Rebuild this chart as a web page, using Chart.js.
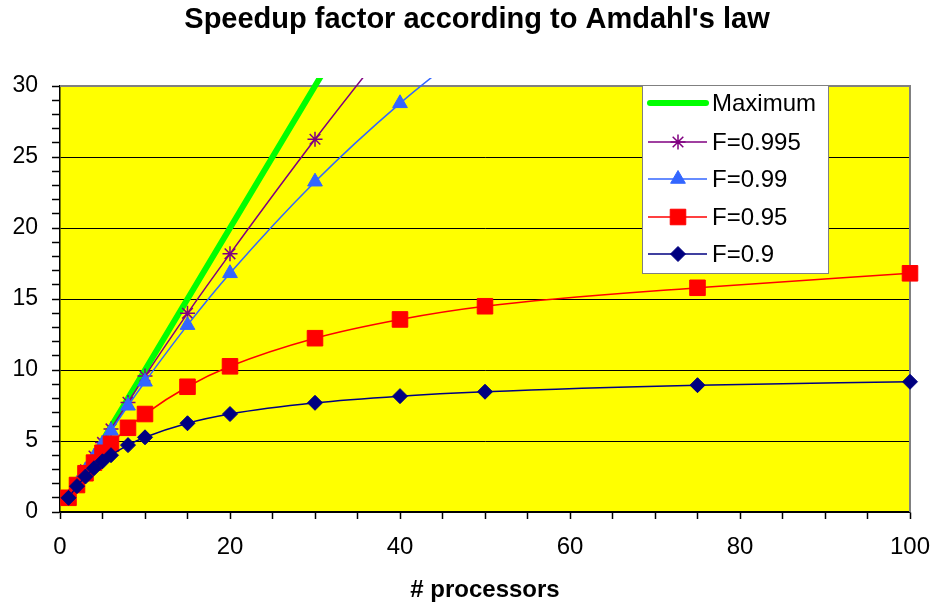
<!DOCTYPE html>
<html>
<head>
<meta charset="utf-8">
<title>Speedup factor according to Amdahl's law</title>
<script src="https://cdn.jsdelivr.net/npm/chart.js@4.4.1/dist/chart.umd.min.js"></script>
<style>
  html, body { margin: 0; padding: 0; background: #fff; }
  #wrap { width: 934px; height: 607px; }
</style>
</head>
<body>
<div id="wrap"><canvas id="speedupChart" width="934" height="607"></canvas></div>
<script>
// number of processors where a marker sits
const processors = [1, 2, 3, 4, 5, 6, 8, 10, 15, 20, 30, 40, 50, 75, 100];

// speedup (null = above the plot)
const maximum   = [1, 2, 3, 4, 5, 6, 8, 10, 15, 20, 30, 40, null, null, null];
const speedF995 = [1, 1.99, 2.97, 3.94, 4.9, 5.85, 7.72, 9.57, 13.99, 18.18, 26.25, 33.9, null, null, null];
const speedF99  = [1, 1.98, 2.94, 3.88, 4.81, 5.71, 7.48, 9.17, 13.16, 16.81, 23.26, 28.78, 33.56, null, null];
const speedF95  = [1, 1.9, 2.73, 3.48, 4.17, 4.8, 5.93, 6.9, 8.82, 10.26, 12.24, 13.56, 14.49, 15.79, 16.81];
const speedF90  = [1, 1.82, 2.5, 3.08, 3.57, 4.0, 4.71, 5.26, 6.25, 6.9, 7.69, 8.16, 8.47, 8.93, 9.17];

const seriesNames = ['Maximum', 'F=0.995', 'F=0.99', 'F=0.95', 'F=0.9'];
const xTickLabels = [0, 20, 40, 60, 80, 100];
const yTickLabels = [0, 5, 10, 15, 20, 25, 30];
const chartTitle = "Speedup factor according to Amdahl's law";

const FONT = "'Liberation Sans', Arial, Helvetica, sans-serif";

function toPoints(values) {
    return processors.map((p, i) => ({ x: p, y: values[i] }));
}

const clipBox = { left: 14, top: 8, right: 14, bottom: 14 };

const datasets = [
    {
        label: seriesNames[0], data: toPoints(maximum),
        borderColor: '#00FF00', borderWidth: 6, pointRadius: 0,
        order: 5
    },
    {
        label: seriesNames[1], data: toPoints(speedF995),
        borderColor: '#800080', borderWidth: 1.5,
        pointStyle: 'star', pointRadius: 7.5, pointBorderWidth: 1.5,
        pointBorderColor: '#800080', pointBackgroundColor: '#800080',
        order: 4
    },
    {
        label: seriesNames[2], data: toPoints(speedF99),
        borderColor: '#3366FF', borderWidth: 1.5,
        pointStyle: 'triangle', pointRadius: 8.5, pointBorderWidth: 1,
        pointBorderColor: '#3366FF', pointBackgroundColor: '#3366FF',
        order: 3
    },
    {
        label: seriesNames[3], data: toPoints(speedF95),
        borderColor: '#FF0000', borderWidth: 1.5,
        pointStyle: 'rect', pointRadius: 11, pointBorderWidth: 1,
        pointBorderColor: '#FF0000', pointBackgroundColor: '#FF0000',
        order: 2
    },
    {
        label: seriesNames[4], data: toPoints(speedF90),
        borderColor: '#000080', borderWidth: 1.5,
        pointStyle: 'rectRot', pointRadius: 7.5, pointBorderWidth: 1,
        pointBorderColor: '#000080', pointBackgroundColor: '#000080',
        order: 1
    }
];
datasets.forEach(d => {
    d.clip = clipBox;
    d.cubicInterpolationMode = 'monotone';
    d.fill = false;
    d.spanGaps = false;
});

// yellow plot area, grey frame on top/right, title text
const plotArea = {
    id: 'plotArea',
    beforeDraw(chart) {
        const { ctx, chartArea: a } = chart;
        ctx.save();
        ctx.fillStyle = '#FFFF00';
        ctx.fillRect(a.left, a.top, a.right - a.left, a.bottom - a.top);
        ctx.restore();
    },
    beforeDatasetsDraw(chart) {
        const { ctx, chartArea: a } = chart;
        ctx.save();
        ctx.strokeStyle = '#808080';
        ctx.lineWidth = 2;
        ctx.beginPath();
        ctx.moveTo(a.left, a.top);
        ctx.lineTo(a.right, a.top);
        ctx.lineTo(a.right, a.bottom);
        ctx.stroke();
        ctx.restore();
    },
    afterDraw(chart) {
        const ctx = chart.ctx;
        ctx.save();
        ctx.fillStyle = '#000000';
        ctx.font = 'bold 29px ' + FONT;
        ctx.textAlign = 'center';
        ctx.textBaseline = 'middle';
        ctx.fillText(chartTitle, 477, 20);
        ctx.restore();
    }
};

// Excel style legend box with line + marker samples
const boxLegend = {
    id: 'boxLegend',
    afterDraw(chart) {
        const ctx = chart.ctx;
        const box = { x: 642, y: 85, w: 186, h: 188 };
        const rows = [103, 142, 179, 217, 254];
        ctx.save();
        ctx.fillStyle = '#FFFFFF';
        ctx.fillRect(box.x, box.y, box.w, box.h);
        ctx.strokeStyle = '#808080';
        ctx.lineWidth = 1;
        ctx.strokeRect(box.x + 0.5, box.y + 0.5, box.w, box.h);

        chart.data.datasets.forEach((ds, i) => {
            const yc = rows[i];
            ctx.beginPath();
            ctx.strokeStyle = ds.borderColor;
            ctx.lineWidth = ds.borderWidth;
            ctx.lineCap = i === 0 ? 'round' : 'butt';
            ctx.moveTo(i === 0 ? 650 : 648, yc);
            ctx.lineTo(i === 0 ? 706 : 707, yc);
            ctx.stroke();
            if (ds.pointRadius > 0 && Chart.helpers && Chart.helpers.drawPoint) {
                ctx.fillStyle = ds.pointBackgroundColor;
                ctx.strokeStyle = ds.pointBorderColor;
                ctx.lineWidth = ds.pointBorderWidth;
                Chart.helpers.drawPoint(ctx, {
                    pointStyle: ds.pointStyle, radius: ds.pointRadius,
                    rotation: 0, borderWidth: ds.pointBorderWidth
                }, 678, yc);
            }
            ctx.fillStyle = '#000000';
            ctx.font = '24px ' + FONT;
            ctx.textAlign = 'left';
            ctx.textBaseline = 'middle';
            ctx.fillText(ds.label, 712, yc + 1);
        });
        ctx.restore();
    }
};

new Chart(document.getElementById('speedupChart'), {
    type: 'line',
    data: { datasets: datasets },
    plugins: [plotArea, boxLegend],
    options: {
        responsive: false,
        animation: false,
        devicePixelRatio: 1,
        layout: { padding: { left: 0, right: 0, top: 86, bottom: 0 } },
        plugins: {
            legend: { display: false },
            tooltip: { enabled: false },
            title: { display: false }
        },
        scales: {
            x: {
                type: 'linear',
                min: 0, max: 100,
                afterFit(scale) {
                    scale.height = 95;
                    scale.paddingLeft = 0;
                    scale.paddingRight = 24;
                },
                border: { color: '#000000', width: 1.5 },
                grid: { drawOnChartArea: false, tickLength: 7, tickColor: '#000000', tickWidth: 1.5 },
                ticks: {
                    stepSize: 5, autoSkip: false, maxRotation: 0, padding: 14,
                    color: '#000000',
                    font: { family: FONT, size: 24 },
                    callback: v => xTickLabels.includes(v) ? String(v) : ''
                },
                title: {
                    display: true, text: '# processors', color: '#000000',
                    font: { family: FONT, size: 24, weight: 'bold' },
                    padding: { top: 0, bottom: 2 }
                }
            },
            y: {
                type: 'linear',
                min: 0, max: 30,
                afterFit(scale) {
                    scale.width = 60;
                    scale.paddingTop = 0;
                },
                border: { color: '#000000', width: 1.5 },
                grid: {
                    tickLength: 8, tickColor: '#000000', tickWidth: 1.5, lineWidth: 1,
                    color: c => (c.tick && c.tick.value % 5 === 0 && c.tick.value !== 30) ? '#000000' : 'rgba(0,0,0,0)'
                },
                ticks: {
                    stepSize: 1, autoSkip: false, padding: 14,
                    color: '#000000',
                    font: { family: FONT, size: 23 },
                    callback: v => yTickLabels.includes(v) ? String(v) : ''
                }
            }
        }
    }
});
</script>
</body>
</html>
